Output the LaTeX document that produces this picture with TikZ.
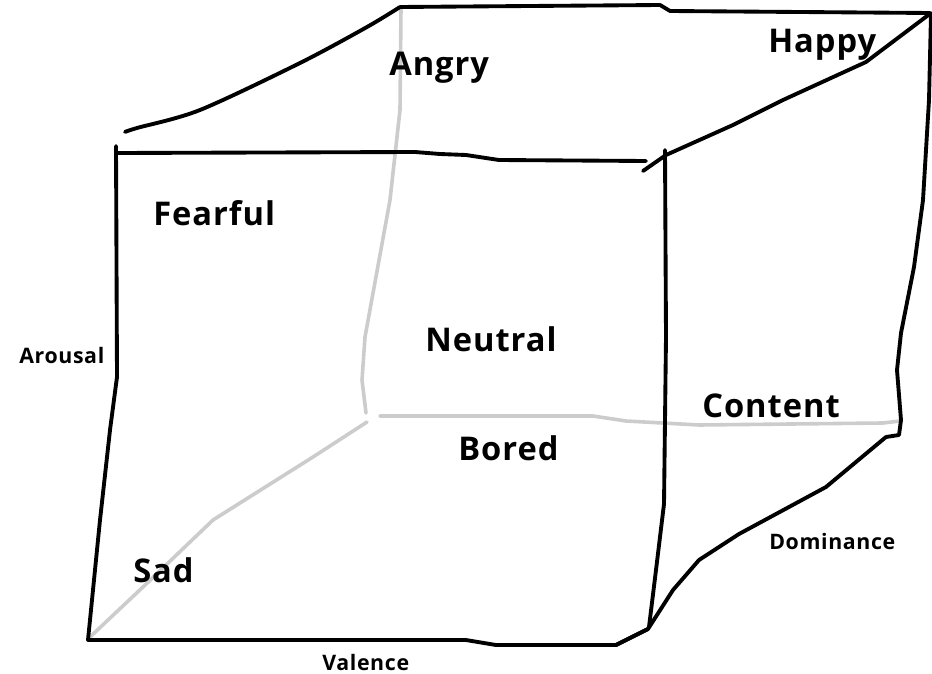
\documentclass[tikz,border=0pt]{standalone}
\usepackage{fontspec}
\setmainfont{Open Sans}[LetterSpace=3]
\usetikzlibrary{positioning}
\definecolor{cHidden}{HTML}{CCCCCC}
\tikzset{
  edge/.style={line width=2.9pt, draw=black, line join=round, line cap=round},
  hidden/.style={line width=2.7pt, draw=cHidden, line join=round, line cap=round},
  emo/.style={anchor=base west, inner sep=0pt, font=\fontsize{24.5}{28}\selectfont\bfseries},
  axis/.style={anchor=base west, inner sep=0pt, font=\fontsize{16}{18}\selectfont\bfseries}
}
\begin{document}
\begin{tikzpicture}[x=0.75pt, y=-0.75pt]
  \useasboundingbox (0,0) rectangle (932,674);
  % hidden edges
  \draw[hidden] (401,8) -- (400,110) -- (390,200) -- (365,337) -- (362,380) -- (366,413);
  \draw[hidden] (380,416) -- (593,416) -- (626,421) -- (699,425) -- (883,423) -- (900,421);
  \draw[hidden] (367,422) -- (313,457) -- (213,520) -- (143,587) -- (90,637);
  % front face
  \draw[edge] (116,146) -- (117,377) -- (110,430) -- (100,520) -- (88,640)
    -- (466,640) -- (496,645) -- (616,645) -- (648,629);
  \draw[edge] (117,153) -- (415,152) -- (440,154) -- (466,155) -- (499,160) -- (646,161);
  \draw[edge] (665,150) -- (666,337) -- (664,504) -- (656,570) -- (649,627);
  % back and right faces
  \draw[edge] plot[smooth] coordinates {(125,132) (137,128) (200,110) (300,63) (367,27) (400,7)};
  \draw[edge] (400,7) -- (660,5) -- (670,11) -- (930,13);
  \draw[edge] (643,171) -- (666,155) -- (733,125) -- (783,100) -- (866,62) -- (931,13);
  \draw[edge] (931,14) -- (929,100) -- (923,200) -- (914,267) -- (901,333) -- (897,370)
    -- (901,420) -- (899,435) -- (886,437);
  \draw[edge] (886,437) -- (826,487) -- (739,534) -- (699,560) -- (673,590) -- (648,629) -- (616,645);
  % emotions
  \node[emo] (angry) at (389,76) {Angry};
  \node[emo] (happy) at (768,53) {Happy};
  \node[emo] (fearful) at (153,225) {Fearful};
  \node[emo] (neutral) at (425,351) {Neutral};
  \node[emo] (content) at (702,417) {Content};
  \node[emo] (bored) at (458,460) {Bored};
  \node[emo] (sad) at (133,582) {Sad};
  % axes
  \node[axis] (arousal) at (19,363) {Arousal};
  \node[axis] (valence) at (322,670) {Valence};
  \node[axis] (dominance) at (769,549) {Dominance};
\end{tikzpicture}
\end{document}
